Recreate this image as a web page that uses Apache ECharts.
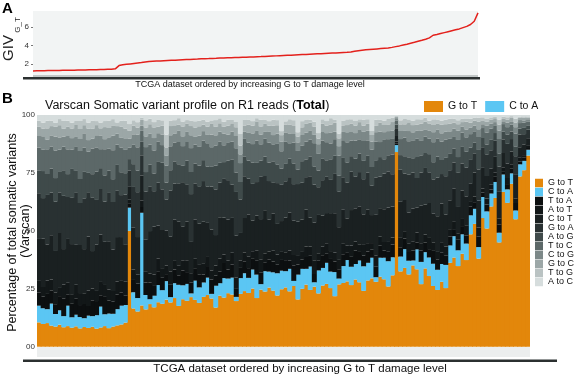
<!DOCTYPE html>
<html>
<head>
<meta charset="utf-8">
<script src="https://cdn.jsdelivr.net/npm/echarts@6/dist/echarts.min.js"></script>
<style>
  html, body { margin: 0; padding: 0; background: #fff; }
  #chart { width: 578px; height: 377px; }
</style>
</head>
<body>
<div id="chart"></div>
<script>
// GIV G_T score per sample (panel A), samples ordered by increasing G to T damage
const giv = [
  1.28,1.29,1.30,1.30,1.31,1.32,1.33,1.33,1.34,1.35,1.35,1.36,1.37,1.38,1.38,1.39,1.40,1.41,1.42,1.43,
  1.45,1.46,1.50,1.85,1.93,1.98,2.03,2.08,2.13,2.18,2.24,2.29,2.31,2.33,2.35,2.37,2.39,2.41,2.43,2.45,
  2.47,2.49,2.51,2.53,2.55,2.58,2.59,2.60,2.62,2.63,2.65,2.66,2.68,2.69,2.71,2.72,2.74,2.75,2.77,2.78,
  2.80,2.81,2.83,2.85,2.87,2.89,2.91,2.93,2.95,2.97,2.99,3.01,3.03,3.05,3.07,3.09,3.11,3.13,3.15,3.17,
  3.19,3.21,3.23,3.25,3.27,3.30,3.38,3.45,3.50,3.55,3.58,3.61,3.64,3.67,3.70,3.73,3.80,3.88,3.96,4.05,
  4.14,4.24,4.34,4.45,4.56,4.68,4.82,5.10,5.18,5.28,5.38,5.48,5.58,5.68,5.78,5.92,6.05,6.25,6.60,7.50
];

// panel B: G to T and C to A, percent of all variants
const gToT = [
  10.5,9.8,10.2,9.1,8.7,9.5,8.4,8.9,8.2,8.8,7.9,8.5,8.1,8.6,7.8,8.3,8.9,8.0,8.7,9.2,
  9.6,10.4,50.0,16.5,15.2,17.8,16.1,18.4,17.0,19.2,18.5,20.3,19.1,21.0,17.6,20.5,19.8,21.4,20.2,18.9,
  21.5,22.3,20.8,16.9,22.0,21.2,23.1,22.5,19.7,22.8,24.0,23.2,25.1,21.0,24.6,23.8,25.5,24.2,22.1,24.8,
  25.6,23.9,26.2,20.4,25.0,26.8,24.5,25.9,23.0,26.4,27.1,25.3,21.8,26.9,27.5,28.2,26.6,29.0,27.8,24.1,
  28.6,29.5,28.0,30.2,29.1,26.0,30.8,84.0,32.5,34.0,31.2,35.1,33.4,27.0,33.8,30.5,26.2,24.5,28.0,25.3,
  36.2,38.5,34.8,40.1,37.4,48.5,53.0,38.0,55.5,51.0,60.5,64.2,45.0,66.8,62.1,70.3,55.0,73.5,76.2,82.5
];
const cToA = [
  7.2,6.8,6.0,9.5,5.4,6.2,4.8,8.8,4.5,5.0,4.9,3.8,5.3,4.6,5.8,9.0,5.1,6.3,5.5,7.0,
  8.1,7.6,10.0,7.0,5.8,40.0,6.2,2.1,5.0,7.4,5.9,8.0,2.3,6.4,9.1,6.0,7.3,1.6,8.3,6.7,
  6.2,7.5,2.0,9.4,5.4,8.4,6.3,7.3,1.8,6.8,7.7,6.5,8.2,10.1,2.4,8.8,6.9,7.9,9.6,8.0,
  7.0,9.7,2.2,10.7,8.6,6.8,10.1,1.9,9.9,7.6,9.1,7.1,10.4,2.5,7.3,9.2,7.9,6.7,9.4,10.6,
  7.6,8.9,2.0,8.2,9.3,10.9,7.8,3.0,6.4,8.1,5.9,2.1,8.6,9.6,7.0,8.0,9.6,8.7,7.7,10.0,
  7.5,9.2,6.8,8.4,7.1,8.2,6.5,5.0,9.1,7.4,5.6,6.9,4.2,7.5,5.8,4.5,3.8,5.2,4.0,2.5
];

// the other ten classes: relative weights, they share what is left after G to T and C to A
const tToA = [
  7,6,8,7,5,7,9,6,7,8,6,7,5,8,7,6,9,7,6,8,
  7,5,4,7,8,6,7,9,6,8,7,5,7,8,6,9,7,6,8,7,
  5,7,8,6,7,9,6,8,5,7,8,6,7,9,7,6,8,7,5,8,
  7,6,9,7,6,8,7,5,7,9,6,8,7,6,8,5,7,9,6,7,
  8,6,7,8,5,7,9,6,7,8,6,7,5,8,7,6,9,7,8,6,
  7,5,8,7,6,9,7,8,6,7,5,8,7,6,7,9,8,6,7,5
];
const aToT = [
  6,5,7,6,6,4,7,6,5,7,6,5,8,6,5,7,6,6,5,7,
  6,7,3,6,5,7,6,5,6,8,5,6,7,5,6,6,7,5,6,5,
  7,6,5,6,8,5,6,7,6,5,6,7,5,6,8,6,5,7,6,6,
  5,7,6,6,5,7,6,8,5,6,7,5,6,6,7,5,8,6,5,7,
  6,5,7,6,6,8,5,6,7,5,6,6,7,5,6,8,6,5,7,6,
  6,7,5,6,8,5,6,7,5,6,6,7,5,6,8,6,5,7,6,6
];
const cToT = [
  22,25,19,24,21,27,18,23,26,20,24,22,28,19,23,25,21,26,20,24,
  23,19,12,24,21,26,18,23,27,20,22,25,19,24,28,21,23,17,25,22,
  26,20,23,18,25,22,27,21,24,19,23,26,20,22,25,29,21,24,18,23,
  22,27,20,24,21,25,19,23,28,22,20,24,26,21,23,19,25,22,27,20,
  24,21,26,19,23,25,22,20,27,24,21,23,18,26,22,25,20,24,28,21,
  23,26,20,24,22,19,25,21,27,23,20,24,22,26,19,23,25,21,24,22
];
const gToA = [
  24,21,26,23,25,20,27,22,24,26,21,25,23,27,22,24,20,26,23,25,
  22,26,14,23,25,21,27,24,20,26,23,22,25,21,24,27,22,26,23,20,
  25,22,24,27,21,23,26,20,25,23,28,22,24,21,26,23,25,20,24,27,
  23,25,21,26,24,22,27,23,20,25,24,21,26,23,22,25,27,21,24,23,
  26,22,24,21,25,27,23,22,24,20,26,25,21,23,27,22,24,26,21,25,
  24,21,26,23,22,25,20,24,27,22,23,25,21,24,26,22,20,25,23,24
];
const aToG = [
  12,14,11,13,12,10,13,12,15,11,12,13,10,12,14,11,13,12,11,14,
  12,11,10,13,12,14,11,12,10,13,15,12,11,13,12,10,14,12,13,11,
  13,12,11,14,12,10,13,15,11,12,13,11,14,12,10,13,12,14,11,12,
  11,13,12,10,14,12,13,11,12,15,11,13,12,10,13,14,11,12,13,12,
  12,14,11,13,10,12,14,12,11,13,12,10,15,12,11,13,12,14,10,12,
  13,11,12,14,12,13,11,15,12,10,13,12,11,14,12,13,10,12,14,11
];
const tToC = [
  12,11,13,12,14,11,12,13,10,12,14,12,11,13,12,10,13,12,14,11,
  13,12,10,11,13,12,14,11,13,12,10,12,13,11,14,12,11,13,12,10,
  12,14,11,12,13,10,12,11,14,13,12,11,12,14,10,12,13,11,12,13,
  14,11,12,13,10,12,11,14,12,13,12,10,11,13,12,14,11,12,10,13,
  11,13,12,10,14,12,11,13,12,14,11,12,13,10,12,11,14,12,13,12,
  12,10,13,12,11,14,12,10,13,12,14,11,12,13,10,12,14,11,12,13
];
const cToG = [
  6,7,5,6,7,6,5,7,6,5,6,7,6,5,6,7,5,6,7,6,
  5,6,8,6,7,5,6,6,7,5,6,7,6,5,7,6,6,7,5,6,
  6,5,7,6,6,7,5,6,7,6,5,6,7,6,6,5,7,6,6,7,
  6,7,5,6,7,6,6,5,7,6,6,7,5,6,6,7,6,5,7,6,
  7,6,6,7,5,6,6,7,6,5,7,6,6,7,5,6,7,6,6,5,
  6,6,7,5,6,7,6,6,5,7,6,6,7,5,6,6,7,6,5,6
];
const gToC = [
  5,4,6,5,5,6,4,5,5,6,5,4,6,5,5,4,6,5,5,4,
  6,5,7,5,4,6,5,5,6,4,5,6,5,5,4,6,5,5,6,5,
  4,5,6,5,5,4,6,5,5,6,4,5,5,6,5,5,4,6,5,5,
  5,6,5,4,5,6,5,5,4,6,5,5,6,5,4,5,6,5,5,4,
  5,5,4,6,5,5,6,4,5,5,6,5,4,5,6,5,5,4,6,5,
  6,5,5,4,6,5,5,6,5,4,5,6,5,5,4,6,5,5,6,5
];
const tToG = [
  3,3,4,3,2,3,4,3,3,2,4,3,3,4,2,3,3,4,3,2,
  3,4,6,3,3,2,4,3,3,4,3,9,3,3,4,3,2,3,4,3,
  3,3,2,4,3,3,4,2,3,8,4,3,3,2,4,3,3,4,3,3,
  2,4,3,3,4,3,2,3,4,3,3,4,2,3,3,4,3,3,2,4,
  3,3,4,2,3,4,3,3,3,4,2,3,4,3,3,2,4,3,3,3,
  4,3,3,3,2,4,3,3,4,3,3,2,4,3,3,3,4,2,3,3
];
const aToC = [
  3,4,3,3,4,2,3,3,4,3,3,2,4,3,3,4,3,3,2,4,
  3,3,8,3,4,3,3,2,4,3,3,14,3,3,2,4,3,3,4,3,
  3,4,3,3,2,4,3,3,4,13,3,3,4,2,3,3,4,3,3,12,
  4,3,3,12,4,3,3,4,13,3,4,2,3,12,4,3,3,4,3,3,
  3,12,3,3,4,3,2,3,4,3,3,4,3,3,2,4,3,3,4,3,
  3,3,4,3,3,4,3,2,3,4,3,3,4,3,3,2,4,3,3,4
];

const classes = ['G to T', 'C to A', 'T to A', 'A to T', 'C to T', 'G to A',
  'A to G', 'T to C', 'C to G', 'G to C', 'T to G', 'A to C'];
const classColors = ['#e3870b', '#5bc6f3', '#0c0f10', '#121718', '#1a2021', '#293132',
  '#3f4a4a', '#5c6868', '#7c8888', '#9ca7a7', '#bac3c3', '#d6dddd'];

const N = gToT.length;
const others = [tToA, aToT, cToT, gToA, aToG, tToC, cToG, gToC, tToG, aToC];
[giv, cToA].concat(others).forEach((a, k) => {
  if (a.length !== N) throw new Error('array ' + k + ' has ' + a.length + ' values');
});
const samples = gToT.map((_, i) => 'S' + (i + 1));

// scale the weights so every bar adds up to 100 %
const shares = [gToT, cToA].concat(others.map(w => w.map((v, i) => {
  let sum = 0;
  others.forEach(o => { sum += o[i]; });
  return v / sum * (100 - gToT[i] - cToA[i]);
})));

const font = "'Liberation Sans', Arial, sans-serif";
const narrow = "'Liberation Sans Narrow', 'Liberation Sans', Arial, sans-serif";
const xTitle = 'TCGA dataset ordered by increasing G to T damage level';

const chart = echarts.init(document.getElementById('chart'));
const option = {
  animation: false,
  textStyle: { fontFamily: font },
  grid: [
    { left: 33, width: 445, top: 11, height: 64, show: true, backgroundColor: '#f2f4f4', borderWidth: 0 },
    { left: 37, width: 493, top: 115, height: 231.7 }
  ],
  xAxis: [
    { gridIndex: 0, type: 'category', data: samples, boundaryGap: false, show: false },
    { gridIndex: 1, type: 'category', data: samples, show: false }
  ],
  yAxis: [
    {
      gridIndex: 0, type: 'value', min: 0.84, max: 7.7,
      splitLine: { show: false }, axisLine: { show: false },
      axisTick: { show: true, length: 2, lineStyle: { color: '#777' }, customValues: [2, 4, 6] },
      axisLabel: { color: '#333', fontSize: 8, margin: 4, customValues: [2, 4, 6] }
    },
    {
      gridIndex: 1, type: 'value', min: 0, max: 100, interval: 25,
      splitLine: { show: false }, axisLine: { show: false }, axisTick: { show: false },
      axisLabel: { color: '#333', fontSize: 8, margin: 2, formatter: v => (v === 0 ? '00' : v) }
    }
  ],
  legend: [
    {
      data: ['G to T', 'C to A'], left: 424, top: 101, padding: 0, icon: 'rect',
      itemWidth: 19, itemHeight: 11, itemGap: 8, selectedMode: false,
      textStyle: { fontSize: 10.5, lineHeight: 11, color: '#111', fontFamily: font }
    },
    {
      data: classes, orient: 'vertical', left: 535, top: 178.5, padding: 0, icon: 'rect',
      itemWidth: 8, itemHeight: 8.5, itemGap: 0, selectedMode: false,
      textStyle: { fontSize: 9, lineHeight: 8.55, color: '#111', fontFamily: narrow }
    }
  ],
  series: [
    {
      name: 'GIV', type: 'line', xAxisIndex: 0, yAxisIndex: 0, data: giv,
      showSymbol: false, silent: true, lineStyle: { color: '#e3211c', width: 1.5 }
    }
  ].concat(classes.map((name, k) => ({
    name, type: 'bar', stack: 'total', xAxisIndex: 1, yAxisIndex: 1,
    data: shares[k], barWidth: 5, silent: true,
    itemStyle: { color: classColors[k] }
  }))),
  graphic: [
    // sample rugs under both panels
    { type: 'rect', shape: { x: 33, y: 75, width: 445, height: 2 }, style: { fill: '#c2c7c7' } },
    { type: 'rect', shape: { x: 23, y: 77, width: 457, height: 2.5 }, style: { fill: '#2b3030' } },
    { type: 'rect', shape: { x: 37, y: 347, width: 493, height: 10 }, style: { fill: '#eceeee' } },
    { type: 'rect', shape: { x: 23, y: 359.5, width: 534, height: 2.5 }, style: { fill: '#2b3030' } },
    { type: 'text', x: 2, y: 1, style: { text: 'A', font: 'bold 15px ' + font, fill: '#000' } },
    { type: 'text', x: 2, y: 91, style: { text: 'B', font: 'bold 15px ' + font, fill: '#000' } },
    { type: 'text', x: 250, y: 85, style: { text: xTitle, font: '9px ' + font, fill: '#111', align: 'center', verticalAlign: 'middle' } },
    { type: 'text', x: 300, y: 369, style: { text: xTitle, font: '11.5px ' + font, fill: '#111', align: 'center', verticalAlign: 'middle' } },
    { type: 'text', x: 9, y: 48, rotation: Math.PI / 2, style: { text: 'GIV', font: '15px ' + font, fill: '#222', align: 'center', verticalAlign: 'middle' } },
    { type: 'text', x: 17.5, y: 25, rotation: Math.PI / 2, style: { text: 'G_T', font: '8px ' + font, fill: '#222', align: 'center', verticalAlign: 'middle' } },
    { type: 'text', x: 12.5, y: 232.5, rotation: Math.PI / 2, style: { text: 'Percentage of total somatic variants', font: '12.5px ' + font, fill: '#111', align: 'center', verticalAlign: 'middle' } },
    { type: 'text', x: 26, y: 231, rotation: Math.PI / 2, style: { text: '(Varscan)', font: '12.5px ' + font, fill: '#111', align: 'center', verticalAlign: 'middle' } },
    {
      type: 'text', x: 45, y: 106,
      style: {
        text: '{n|Varscan Somatic variant profile on R1 reads (}{b|Total}{n|)}',
        verticalAlign: 'middle', fill: '#111',
        rich: {
          n: { fontSize: 12.5, fontFamily: font, fill: '#111' },
          b: { fontSize: 12.5, fontFamily: font, fontWeight: 'bold', fill: '#000' }
        }
      }
    }
  ]
};
chart.setOption(option);
</script>
</body>
</html>
